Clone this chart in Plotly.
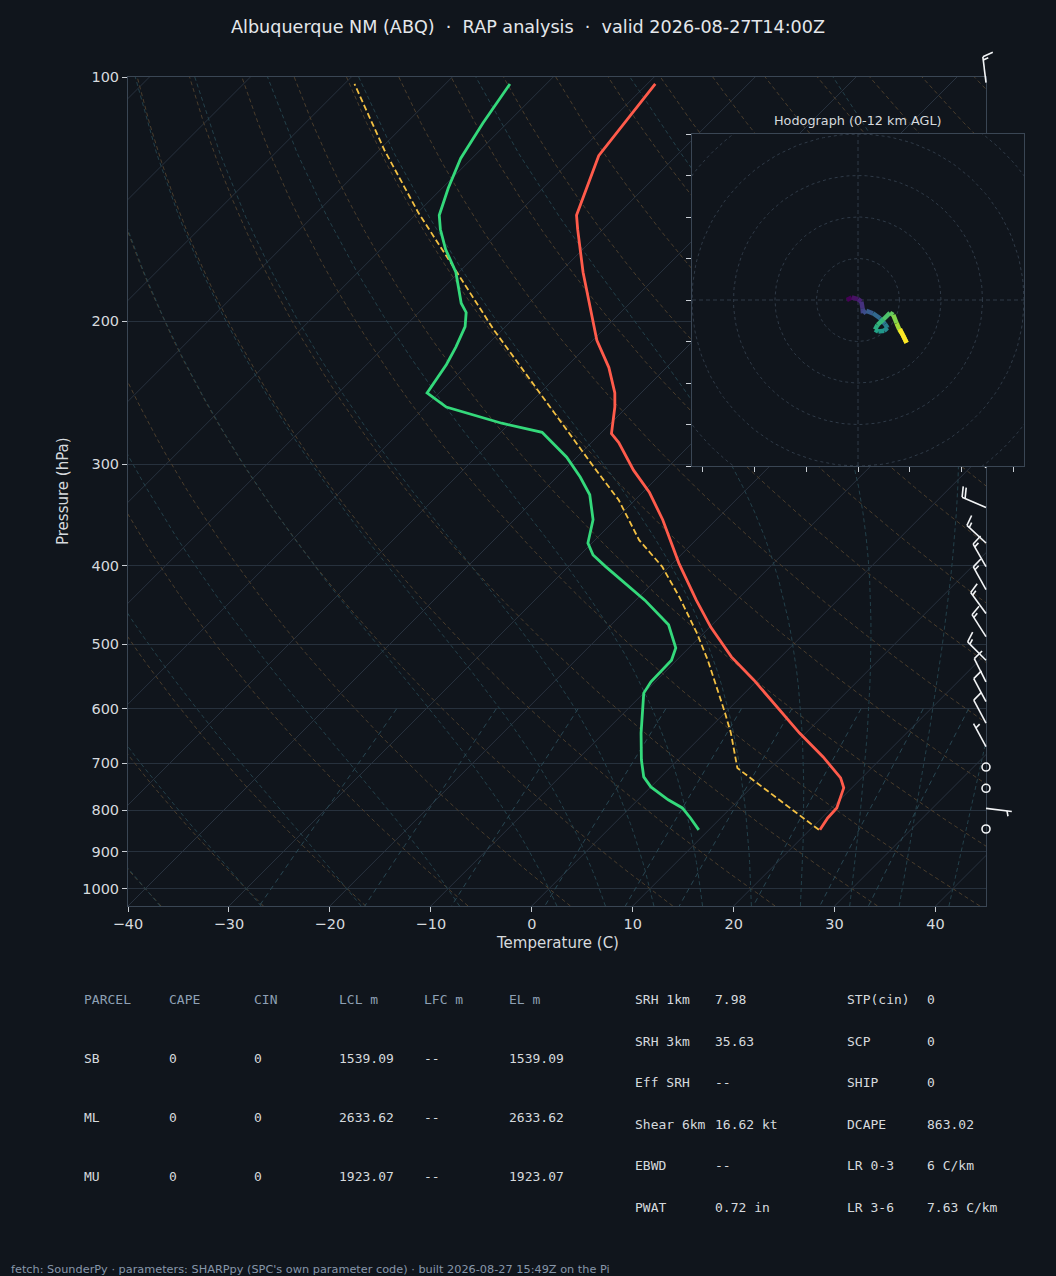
import numpy as np
import plotly.graph_objects as go
from plotly.colors import sample_colorscale

# ---------------- data ----------------
TITLE = "Albuquerque NM (ABQ)  \u00b7  RAP analysis  \u00b7  valid 2026-08-27T14:00Z"
FOOTER = ("fetch: SounderPy \u00b7 parameters: SHARPpy (SPC's own parameter code) \u00b7 "
          "built 2026-08-27 15:49Z on the Pi")

temp_p = [102, 125, 148, 154, 174, 211, 228, 245, 255, 275, 282, 305, 325, 351, 397,
          441, 476, 518, 553, 597, 643, 688, 730, 751, 795, 818, 846]
temp_c = [-69.2, -67.7, -64.0, -62.5, -57.7, -49.6, -45.7, -42.6, -41.2, -38.9, -37.3,
          -33.1, -29.3, -25.3, -19.4, -14.0, -9.9, -4.9, -0.4, 4.6, 9.4, 14.1, 17.9,
          19.2, 20.5, 20.6, 21.0]

dewp_p = [102, 114, 126, 137, 148, 154, 163, 174, 190, 195, 203, 215, 226, 245, 255,
          267, 274, 294, 311, 327, 351, 375, 388, 401, 441, 473, 505, 523, 556, 574,
          643, 694, 728, 749, 777, 795, 818, 846]
dewp_c = [-83.6, -82.4, -81.1, -79.4, -77.6, -76.1, -73.6, -70.3, -66.7, -65.3, -64.0,
          -62.9, -62.1, -61.2, -57.9, -50.8, -45.9, -41.0, -37.7, -35.0, -32.2, -30.4,
          -28.7, -26.3, -19.1, -14.3, -11.3, -10.5, -10.4, -10.0, -6.3, -3.6, -1.7,
          0.0, 3.0, 5.2, 7.0, 9.0]

parcel_p = [846, 710, 643, 607, 523, 484, 437, 401, 372, 332, 302, 245, 205, 174, 147, 123, 102]
parcel_c = [20.9, 6.7, 2.6, 0.0, -6.9, -10.7, -16.0, -20.7, -25.6, -31.6, -37.4, -50.0,
            -60.8, -70.2, -79.9, -89.5, -99.0]

barb_p = [101.6, 303, 339, 375, 401, 428, 458, 489, 523, 556, 588, 625, 668, 708, 752, 796, 844]
barb_u = [1.8, 8.5, 18.4, 11.0, 7.4, 7.3, 8.8, 8.1, 10.6, 4.5, 4.7, 4.7, 2.4, 0.0, 0.0, -5.0, 0.0]
barb_v = [-14.9, -12.4, -7.9, -10.2, -13.0, -13.1, -12.1, -12.7, -10.6, -8.9, -8.8, -8.8,
          -4.4, 0.0, 0.0, 0.6, 0.0]

hodo_u = [-2.7, -1.5, 0.0, 0.8, 1.1, 1.2, 2.0, 3.6, 5.3, 6.5, 7.1, 6.3, 4.9, 4.1, 4.7,
          6.1, 7.7, 8.5, 9.3, 10.0, 10.8, 11.7, 10.1]
hodo_v = [0.0, 0.6, 0.2, -0.4, -2.0, -3.2, -2.6, -3.2, -4.4, -5.8, -6.7, -7.4, -7.6, -7.1,
          -6.0, -4.7, -3.1, -3.6, -5.6, -7.2, -8.4, -10.3, -7.0]
hodo_rings = [10, 20, 30, 40, 50]
hodo_xticks = [-37.5, -25, -12.5, 0, 12.5, 25, 37.5]
hodo_yticks = [-40, -30, -20, -10, 0, 10, 20, 30, 40]

x_ticks = [-40, -30, -20, -10, 0, 10, 20, 30, 40]
p_ticks = [100, 200, 300, 400, 500, 600, 700, 800, 900, 1000]

isotherm_t = list(range(-130, 50, 10))
dry_t0 = list(range(-40, 250, 10))
moist_t0 = [-40, -30, -20, -10, 0, 5, 10, 15, 20, 25, 30, 35, 40, 45]
mixing_w = [0.0004, 0.001, 0.002, 0.004, 0.007, 0.01, 0.016, 0.024, 0.032]

parcel_head = ["PARCEL", "CAPE", "CIN", "LCL m", "LFC m", "EL m"]
parcel_rows = [["SB", "0", "0", "1539.09", "--", "1539.09"],
               ["ML", "0", "0", "2633.62", "--", "2633.62"],
               ["MU", "0", "0", "1923.07", "--", "1923.07"]]
param_left = [("SRH 1km", "7.98"), ("SRH 3km", "35.63"), ("Eff SRH", "--"),
              ("Shear 6km", "16.62 kt"), ("EBWD", "--"), ("PWAT", "0.72 in")]
param_right = [("STP(cin)", "0"), ("SCP", "0"), ("SHIP", "0"), ("DCAPE", "863.02"),
               ("LR 0-3", "6 C/km"), ("LR 3-6", "7.63 C/km")]

# ---------------- layout constants ----------------
W, H = 1056, 1276
AX_L, AX_R, AX_T, AX_B = 128, 986, 77, 906
T_MIN, T_MAX = -40, 45
P_BOT, P_TOP = 1050.0, 100.0
HX0, HX1, HY0, HY1 = 692, 1024, 134, 466
HLIM = 40

BG = "#10151c"
FRAME = "#3a4654"
TXT = "#d6dade"
HEAD = "#8ea0b4"

px_per_deg = (AX_R - AX_L) / (T_MAX - T_MIN)
px_per_ln = (AX_B - AX_T) / np.log(P_BOT / P_TOP)
SKEW = px_per_ln / px_per_deg


def skew_x(t, p):
    return np.asarray(t, float) + SKEW * np.log(P_BOT / np.asarray(p, float))


def join(xs_list, ys_list):
    xs, ys = [], []
    for a, b in zip(xs_list, ys_list):
        xs += list(a) + [None]
        ys += list(b) + [None]
    return xs, ys


# thermodynamics for background lines
Rd, Cp, Lv, EPS = 287.04749, 1005.7, 2.501e6, 0.622


def sat_vp(tk):
    return 6.112 * np.exp(17.67 * (tk - 273.15) / (tk - 29.65))


def dtdp(tk, p):
    es = sat_vp(tk)
    rs = EPS * es / (p - es)
    return (Rd * tk + Lv * rs) / (Cp + Lv * Lv * rs * EPS / (Rd * tk * tk)) / p


def moist_lines(t0c, plev):
    t0 = np.asarray(t0c, float) + 273.15
    out = np.zeros((len(t0), len(plev)))
    for j, pt in enumerate(plev):
        n = 80
        tk = t0.copy()
        ps = np.linspace(1000.0, pt, n + 1)
        for k in range(n):
            p0, p1 = ps[k], ps[k + 1]
            h = p1 - p0
            k1 = dtdp(tk, p0)
            k2 = dtdp(tk + h * k1 / 2, p0 + h / 2)
            k3 = dtdp(tk + h * k2 / 2, p0 + h / 2)
            k4 = dtdp(tk + h * k3, p1)
            tk = tk + h * (k1 + 2 * k2 + 2 * k3 + k4) / 6
        out[:, j] = tk - 273.15
    return out


fig = go.Figure()

plev = np.linspace(P_BOT, P_TOP, 70)

# isotherms
xs, ys = join([skew_x([t, t], [P_BOT, P_TOP]) for t in isotherm_t],
              [[P_BOT, P_TOP] for _ in isotherm_t])
fig.add_trace(go.Scatter(x=xs, y=ys, mode="lines", line=dict(color="#28323f", width=1),
                         hoverinfo="skip", showlegend=False))

# dry adiabats
dry = [(t0 + 273.15) * (plev / 1000.0) ** (Rd / Cp) - 273.15 for t0 in dry_t0]
xs, ys = join([skew_x(t, plev) for t in dry], [plev for _ in dry])
fig.add_trace(go.Scatter(x=xs, y=ys, mode="lines",
                         line=dict(color="#4a3d2c", width=1, dash="4px,3px"),
                         hoverinfo="skip", showlegend=False))

# moist adiabats
mp = np.linspace(P_BOT, P_TOP, 40)
moist = moist_lines(moist_t0, mp)
xs, ys = join([skew_x(t, mp) for t in moist], [mp for _ in moist])
fig.add_trace(go.Scatter(x=xs, y=ys, mode="lines",
                         line=dict(color="#23404a", width=1, dash="4px,3px"),
                         hoverinfo="skip", showlegend=False))

# mixing ratio lines
wp = np.linspace(600, P_BOT, 20)
mix = []
for w in mixing_w:
    e = wp * w / (EPS + w)
    le = np.log(e / 6.112)
    mix.append(243.5 * le / (17.67 - le))
xs, ys = join([skew_x(t, wp) for t in mix], [wp for _ in mix])
fig.add_trace(go.Scatter(x=xs, y=ys, mode="lines",
                         line=dict(color="#284652", width=1, dash="5px,4px"),
                         hoverinfo="skip", showlegend=False))

# sounding
fig.add_trace(go.Scatter(x=skew_x(parcel_c, parcel_p), y=parcel_p, mode="lines",
                         line=dict(color="#f4c143", width=1.8, dash="6px,3px"),
                         showlegend=False))
fig.add_trace(go.Scatter(x=skew_x(dewp_c, dewp_p), y=dewp_p, mode="lines",
                         line=dict(color="#34d97b", width=2.8), showlegend=False))
fig.add_trace(go.Scatter(x=skew_x(temp_c, temp_p), y=temp_p, mode="lines",
                         line=dict(color="#ff5b4b", width=2.8), showlegend=False))

# ---------------- wind barbs (x2/y2 overlay in the same scale) ----------------
BL = 26.0
bx, by, cx, cy = [], [], [], []
for p, u, v in zip(barb_p, barb_u, barb_v):
    spd = float(np.hypot(u, v))
    mag = 5 * round(spd / 5)
    if mag == 0:
        cx.append(T_MAX)
        cy.append(p)
        continue
    s = (-u / spd, -v / spd)
    f = (-v / spd, u / spd)

    def pt(a, b, p=p, s=s, f=f):
        dx = a * f[0] + b * s[0]
        dy = a * f[1] + b * s[1]
        return T_MAX + dx / px_per_deg, p * np.exp(-dy / px_per_ln)

    segs = [((0, 0), (0, BL))]
    spacing, fh, fw = 0.125 * BL, 0.4 * BL, 0.25 * BL
    off = BL
    nfull = int(mag // 10)
    half = (mag % 10) >= 5
    for _ in range(nfull):
        segs.append(((0, off), (fh, off + fw / 2)))
        off -= spacing
    if half:
        if off == BL:
            off -= 1.5 * spacing
        segs.append(((0, off), (fh / 2, off + fw / 4)))
    for a, b in segs:
        x0, y0 = pt(*a)
        x1, y1 = pt(*b)
        bx += [x0, x1, None]
        by += [y0, y1, None]

fig.add_trace(go.Scatter(x=bx, y=by, mode="lines", xaxis="x2", yaxis="y2",
                         line=dict(color="#f2f4f6", width=1.6), showlegend=False,
                         hoverinfo="skip"))
fig.add_trace(go.Scatter(x=cx, y=cy, mode="markers", xaxis="x2", yaxis="y2",
                         marker=dict(symbol="circle-open", size=8, color="#f2f4f6",
                                     line=dict(width=1.6, color="#f2f4f6")),
                         showlegend=False, hoverinfo="skip"))

# ---------------- hodograph (x3/y3) ----------------
th = np.linspace(0, 2 * np.pi, 181)
xs, ys = join([r * np.cos(th) for r in hodo_rings], [r * np.sin(th) for r in hodo_rings])
fig.add_trace(go.Scatter(x=xs, y=ys, mode="lines", xaxis="x3", yaxis="y3",
                         line=dict(color="#2f3a47", width=1, dash="3px,3px"),
                         showlegend=False, hoverinfo="skip"))
fig.add_trace(go.Scatter(x=[-HLIM, HLIM, None, 0, 0], y=[0, 0, None, -HLIM, HLIM],
                         mode="lines", xaxis="x3", yaxis="y3",
                         line=dict(color="#2f3a47", width=1, dash="4px,3px"),
                         showlegend=False, hoverinfo="skip"))
n = len(hodo_u)
cols = sample_colorscale("Viridis", [i / (n - 2) for i in range(n - 1)])
for i in range(n - 1):
    fig.add_trace(go.Scatter(x=hodo_u[i:i + 2], y=hodo_v[i:i + 2], mode="lines",
                             xaxis="x3", yaxis="y3",
                             line=dict(color=cols[i], width=4.5),
                             showlegend=False, hoverinfo="skip"))

# ---------------- text ----------------
def px2paper(x, y):
    return x / W, 1 - y / H


ann = []


def text(x, y, s, size=13, color=TXT, family="DejaVu Sans", xanchor="left", angle=0):
    px, py = px2paper(x, y)
    ann.append(dict(x=px, y=py, xref="paper", yref="paper", text=s, showarrow=False,
                    xanchor=xanchor, yanchor="middle", textangle=angle,
                    font=dict(size=size, color=color, family=family)))


text(528, 27, TITLE, size=17.6, color="#e4e7eb", xanchor="center")
text(557, 943, "Temperature (C)", size=15, xanchor="center")
text(63, 491, "Pressure (hPa)", size=15, xanchor="center", angle=-90)
text(858, 120, "Hodograph (0-12 km AGL)", size=12.8, xanchor="center")

MONO = "DejaVu Sans Mono"
col_x = [82, 167, 252, 337, 422, 507]
for cxp, h in zip(col_x, parcel_head):
    text(cxp, 999, h, size=13, color=HEAD, family=MONO)
for ry, row in zip([1058, 1117, 1176], parcel_rows):
    for cxp, val in zip(col_x, row):
        text(cxp, ry, val, size=13, family=MONO)
rows_y = [999, 1041, 1082, 1124, 1165, 1207]
for ry, (k, v) in zip(rows_y, param_left):
    text(633, ry, k, size=13, family=MONO)
    text(713, ry, v, size=13, family=MONO)
for ry, (k, v) in zip(rows_y, param_right):
    text(845, ry, k, size=13, family=MONO)
    text(925, ry, v, size=13, family=MONO)
text(9, 1269, FOOTER, size=11.3, color="#8797aa")

tickfont = dict(family="DejaVu Sans", size=14.5, color=TXT)
x3_lim = T_MIN + (W - AX_L) / px_per_deg
p_top2 = P_TOP * np.exp(-AX_T / px_per_ln)

fig.update_layout(
    width=W, height=H, margin=dict(l=0, r=0, t=0, b=0, pad=0, autoexpand=False),
    paper_bgcolor=BG, plot_bgcolor="rgba(0,0,0,0)", showlegend=False,
    xaxis=dict(domain=[AX_L / W, AX_R / W], range=[T_MIN, T_MAX], anchor="y",
               automargin=False,
               tickvals=x_ticks, ticktext=[("\u2212" + str(-t)) if t < 0 else str(t) for t in x_ticks],
               ticks="outside", ticklen=5, tickwidth=1, tickcolor="#c9ced4",
               showgrid=False, zeroline=False, showline=True, linecolor=FRAME,
               linewidth=1, mirror=True, tickfont=tickfont),
    yaxis=dict(domain=[1 - AX_B / H, 1 - AX_T / H], type="log", anchor="x",
               automargin=False,
               range=[np.log10(P_BOT), np.log10(P_TOP)],
               tickvals=p_ticks, ticktext=[str(p) for p in p_ticks],
               ticks="outside", ticklen=5, tickwidth=1, tickcolor="#c9ced4",
               showgrid=True, gridcolor="#27313d", gridwidth=1, zeroline=False,
               showline=True, linecolor=FRAME, linewidth=1, mirror=True, tickfont=tickfont),
    xaxis2=dict(domain=[AX_L / W, 1.0], range=[T_MIN, x3_lim], anchor="y2", visible=False,
                automargin=False),
    yaxis2=dict(domain=[1 - AX_B / H, 1.0], type="log", anchor="x2", visible=False,
                automargin=False, range=[np.log10(P_BOT), np.log10(p_top2)]),
    xaxis3=dict(domain=[HX0 / W, HX1 / W], range=[-HLIM, HLIM], anchor="y3",
                automargin=False,
                tickvals=hodo_xticks, showticklabels=False, ticks="outside", ticklen=5,
                tickcolor="#c9ced4", showgrid=False, zeroline=False, showline=True,
                linecolor=FRAME, mirror=True),
    yaxis3=dict(domain=[1 - HY1 / H, 1 - HY0 / H], range=[-HLIM, HLIM], anchor="x3",
                automargin=False,
                tickvals=hodo_yticks, showticklabels=False, ticks="outside", ticklen=5,
                tickcolor="#c9ced4", showgrid=False, zeroline=False, showline=True,
                linecolor=FRAME, mirror=True),
    shapes=[dict(type="rect", xref="x3", yref="y3", x0=-HLIM, x1=HLIM, y0=-HLIM, y1=HLIM,
                 fillcolor=BG, line=dict(width=0), layer="below")],
    annotations=ann,
)

PAGE_CSS_JS = ("document.documentElement.style.margin='0';"
               "document.body.style.margin='0';document.body.style.padding='0';"
               "document.body.style.overflow='hidden';"
               "document.body.style.background='" + BG + "';")
fig.write_html("out.html", post_script=PAGE_CSS_JS,
               config={"displayModeBar": False, "staticPlot": True})
